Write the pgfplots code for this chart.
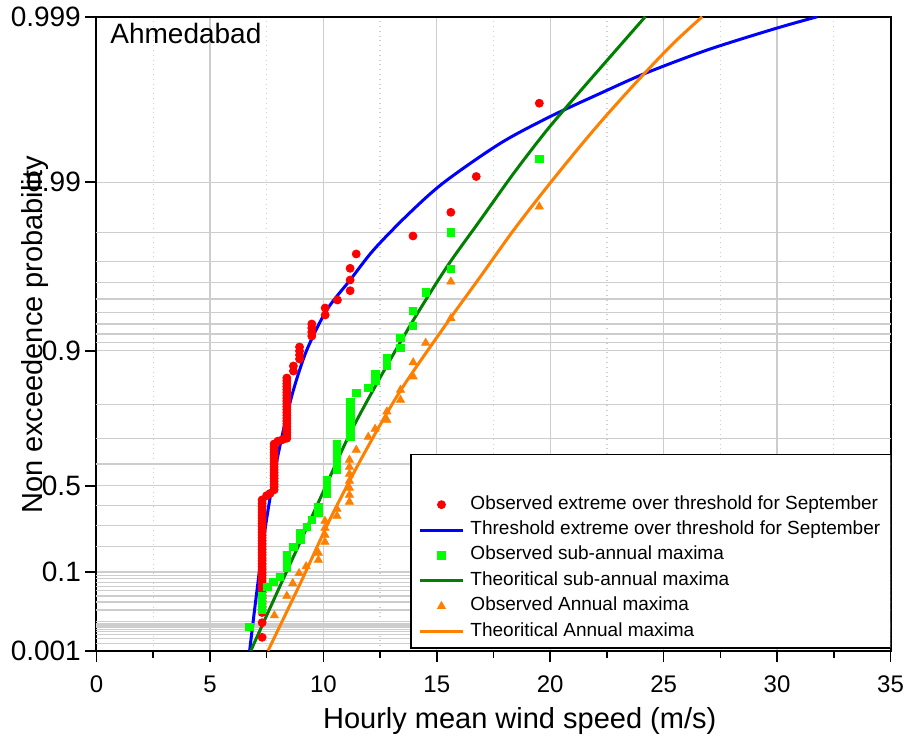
\documentclass[border=0pt]{standalone}
\usepackage{pgfplots}
\pgfplotsset{compat=1.18}
\usepackage{fontspec}
\setmainfont{Liberation Sans}
\definecolor{obsgreen}{RGB}{0,255,0}
\definecolor{thgreen}{RGB}{0,128,0}
\definecolor{myorange}{RGB}{255,128,0}
\definecolor{gridgray}{RGB}{205,205,205}
\begin{document}
\begin{tikzpicture}
\begin{axis}[
  scale only axis, width=397pt, height=317pt,
  xmin=0, xmax=35, ymin=-1.93264, ymax=6.90726,
  tick pos=left,
  xtick={0,5,...,35}, minor xtick={2.5,7.5,...,32.5},
  ytick={-1.93264,-0.83403,0.36651,2.25037,4.60015,6.90726},
  yticklabels={0.001,0.1,0.5,0.9,0.99,0.999},
  extra y ticks={-1.82689,-1.75943,-1.70864,-1.66739,-1.63237,-1.60178,-1.57449,-1.54980,-1.52718,-1.36405,-1.25463,-1.16903,-1.09719,-1.03440,-0.97805,-0.92653,-0.87877,-0.47588,-0.18563,0.08742,0.67173,1.03093,1.49994,2.36116,2.48433,2.62319,2.78263,2.97020,3.19853,3.49125,3.90194},
  extra y tick labels={},
  extra y tick style={major tick length=0pt, grid=major},
  tick align=outside, major tick length=5.5pt, minor tick length=3.5pt,
  xmajorgrids, xminorgrids, ymajorgrids,
  major grid style={gridgray, line width=0.6pt},
  minor grid style={gridgray, dotted, line width=0.6pt},
  axis line style={line width=1pt},
  tick style={black, line width=0.8pt},
  /pgf/number format/assume math mode=true,
  xticklabel style={font=\fontsize{12}{14}\selectfont, yshift=-3.5pt},
  yticklabel style={font=\fontsize{14}{16}\selectfont, xshift=1.2pt},
  xlabel={Hourly mean wind speed (m/s)},
  ylabel={Non exceedence probability},
  label style={font=\fontsize{14.5}{17}\selectfont},
  xlabel style={at={(axis description cs:0.533,-0.111)}, anchor=center},
  ylabel style={at={(axis description cs:-0.0775,0.498)}, anchor=center},
  legend style={draw=none, fill=none, at={(axis description cs:0.405,0.251)}, anchor=north west,
    inner sep=0pt, row sep=0pt, column sep=3pt, font=\fontsize{9.5}{11}\selectfont,
    nodes={inner sep=0pt, text height=8.6pt, text depth=4.1pt}},
  legend cell align=left,
  legend image code/.code={\draw[mark repeat=2,mark phase=2,#1] plot coordinates {(0pt,0pt) (10.75pt,0pt) (21.5pt,0pt)};},
]
\draw[line width=0.6pt, fill=white] (axis description cs:0.396,0.0043) rectangle (axis description cs:1,0.309);

\addlegendimage{only marks, mark=*, mark size=2pt, red, mark options={fill=red, draw=red}}
\addlegendentry{Observed extreme over threshold for September}
\addlegendimage{blue, line width=1.5pt}
\addlegendentry{Threshold extreme over threshold for September}
\addlegendimage{only marks, mark=square*, mark size=1.9pt, obsgreen, mark options={fill=obsgreen, draw=obsgreen}}
\addlegendentry{Observed sub-annual maxima}
\addlegendimage{thgreen, line width=1.5pt}
\addlegendentry{Theoritical sub-annual maxima}
\addlegendimage{only marks, mark=triangle*, mark size=2.3pt, myorange, mark options={fill=myorange, draw=myorange}}
\addlegendentry{Observed Annual maxima}
\addlegendimage{myorange, line width=1.5pt}
\addlegendentry{Theoritical Annual maxima}

% Observed extreme over threshold (red)
\addplot[forget plot, only marks, mark=*, mark size=2pt, red, mark options={fill=red, draw=red}] table {
x y
7.30 -1.746
7.30 -1.542
7.30 -1.40
7.30 -1.36
7.30 -1.32
7.30 -1.28
7.30 -1.24
7.30 -1.20
7.30 -1.16
7.30 -1.12
7.30 -1.08
7.30 -1.04
7.30 -1.00
7.30 -0.96
7.30 -0.92
7.30 -0.88
7.30 -0.84
7.30 -0.80
7.30 -0.76
7.30 -0.72
7.30 -0.68
7.30 -0.64
7.30 -0.60
7.30 -0.56
7.30 -0.52
7.30 -0.48
7.30 -0.44
7.30 -0.40
7.30 -0.36
7.30 -0.32
7.30 -0.28
7.30 -0.24
7.30 -0.20
7.30 -0.16
7.30 -0.12
7.30 -0.08
7.30 -0.04
7.30 0.00
7.30 0.04
7.30 0.08
7.30 0.12
7.30 0.17
7.50 0.23
7.65 0.26
7.83 0.31
7.83 0.35
7.83 0.39
7.83 0.43
7.83 0.47
7.83 0.51
7.83 0.55
7.83 0.59
7.83 0.63
7.83 0.67
7.83 0.71
7.83 0.75
7.83 0.79
7.83 0.83
7.83 0.87
7.83 0.91
7.83 0.95
8.00 0.99
8.20 1.01
8.39 1.03
8.39 1.07
8.39 1.11
8.39 1.15
8.39 1.19
8.39 1.23
8.39 1.27
8.39 1.31
8.39 1.35
8.39 1.39
8.39 1.43
8.39 1.47
8.39 1.51
8.39 1.55
8.39 1.59
8.39 1.63
8.39 1.67
8.39 1.71
8.39 1.75
8.39 1.79
8.39 1.83
8.39 1.87
8.68 1.967
8.68 2.037
8.95 2.135
8.95 2.190
8.95 2.246
8.95 2.302
9.49 2.455
9.49 2.511
9.49 2.567
9.49 2.623
10.08 2.748
10.08 2.846
10.62 2.957
11.18 3.087
11.18 3.236
11.18 3.399
11.45 3.599
13.95 3.850
15.62 4.180
16.74 4.679
19.52 5.701
};

% Observed sub-annual maxima (green squares)
\addplot[forget plot, only marks, mark=square*, mark size=1.9pt, obsgreen, mark options={fill=obsgreen, draw=obsgreen}] table {
x y
6.73 -1.598
7.29 -1.365
7.29 -1.267
7.29 -1.170
7.53 -1.044
7.80 -0.975
8.09 -0.905
8.39 -0.779
8.39 -0.682
8.39 -0.598
8.68 -0.487
8.98 -0.389
8.98 -0.291
9.27 -0.208
9.49 -0.110
9.78 -0.013
9.78 0.071
10.15 0.252
10.15 0.350
10.15 0.447
10.60 0.587
10.60 0.684
10.60 0.782
10.60 0.879
10.60 0.949
11.18 1.047
11.18 1.145
11.18 1.242
11.18 1.340
11.18 1.437
11.18 1.535
11.45 1.660
11.99 1.730
12.29 1.828
12.29 1.926
12.80 2.037
12.80 2.149
13.39 2.288
13.39 2.428
13.95 2.595
13.95 2.804
14.52 3.062
15.62 3.390
15.62 3.896
19.52 4.927
};

% Observed annual maxima (orange triangles)
\addplot[forget plot, only marks, mark=triangle*, mark size=2.3pt, myorange, mark options={fill=myorange, draw=myorange}] table {
x y
7.84 -1.442
8.39 -1.170
8.65 -0.993
8.93 -0.853
9.24 -0.758
9.78 -0.668
9.78 -0.570
10.07 -0.417
10.07 -0.319
10.07 -0.222
10.07 -0.124
10.60 -0.054
10.60 0.043
11.15 0.141
11.15 0.238
11.15 0.336
11.15 0.434
11.15 0.531
11.15 0.629
11.15 0.727
11.45 0.866
11.98 1.047
12.28 1.159
12.80 1.284
12.80 1.400
13.40 1.563
13.40 1.703
13.96 1.888
13.96 2.086
14.51 2.358
15.62 2.702
15.62 3.212
19.52 4.258
};

% Threshold fit (blue)
\addplot[forget plot, blue, line width=1.5pt, smooth] table {
x y
6.75 -1.933
7.07 -1.100
7.36 -0.389
7.65 0.197
7.95 0.712
8.24 1.145
8.68 1.702
9.27 2.260
10.15 2.818
11.18 3.236
12.21 3.654
13.70 4.140
15.30 4.593
17.80 5.142
20.00 5.515
22.21 5.839
24.19 6.118
26.92 6.443
29.85 6.735
31.77 6.907
};

% Theoretical sub-annual maxima (dark green)
\addplot[forget plot, thgreen, line width=1.5pt, smooth] table {
x y
6.80 -1.933
8.09 -1.030
8.98 -0.417
9.86 0.190
11.18 1.100
12.51 1.880
13.97 2.678
15.45 3.422
16.92 4.073
18.39 4.724
19.86 5.328
21.33 5.872
22.51 6.300
24.19 6.907
};

% Theoretical annual maxima (orange)
\addplot[forget plot, myorange, line width=1.5pt, smooth] table {
x y
7.56 -1.933
8.98 -0.996
10.30 -0.096
11.77 0.800
13.39 1.689
15.45 2.637
16.92 3.282
18.39 3.933
19.86 4.533
21.33 5.106
22.51 5.543
24.01 6.068
25.44 6.540
26.70 6.907
};

\node[anchor=base west, inner sep=0pt, font=\fontsize{14}{16}\selectfont] at (axis description cs:0.017,0.958) {Ahmedabad};
\end{axis}
\pgfresetboundingbox
\path (-48.25pt,-50.15pt) rectangle (405.75pt,325.35pt);
\end{tikzpicture}
\end{document}
